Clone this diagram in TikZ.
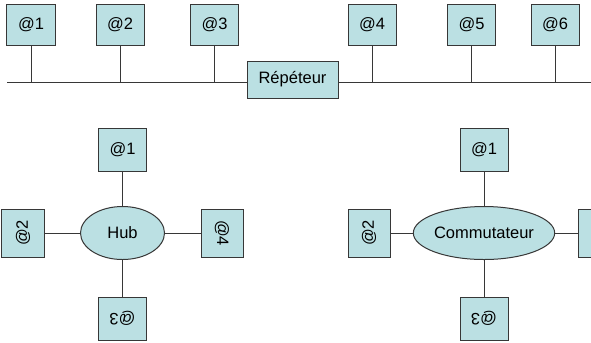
\documentclass[tikz,border=0pt]{standalone}
\usepackage{fontspec}
\setmainfont{Liberation Sans}
\usetikzlibrary{shapes.geometric}
\definecolor{boxfill}{RGB}{187,224,227}
\definecolor{wire}{RGB}{55,55,55}

\begin{document}
\begin{tikzpicture}[x=1bp,y=-1bp,
    font=\fontsize{16.5bp}{19bp}\selectfont,
    station/.style={draw=wire,fill=boxfill,line width=1bp,inner sep=0pt,
                    minimum width=48bp,minimum height=41bp},
    sidebox/.style={station,minimum width=48bp,minimum height=42bp},
    central/.style={draw=wire,fill=boxfill,line width=1bp,ellipse,inner sep=0pt,
                    minimum height=53bp},
    link/.style={draw=wire,line width=1bp}]
  \useasboundingbox (0,0) rectangle (591,342);
  \clip (0,0) rectangle (591,342);
  % bus with repeater
  \coordinate (busL) at (7,82);
  \coordinate (busR) at (591,82);
  \node[station,minimum width=91bp,minimum height=37bp] (rep) at (292.5,79.5) {Répéteur};
  \node[station] (t1) at (31,24.5)    {@1};
  \node[station] (t2) at (120,24.5)   {@2};
  \node[station] (t3) at (214.5,24.5) {@3};
  \node[station] (t4) at (372,24.5)   {@4};
  \node[station] (t5) at (471.5,24.5) {@5};
  \node[station] (t6) at (555,24.5)   {@6};
  \path[link] (busL) -- (busL -| rep.west) (busR -| rep.east) -- (busR);
  \foreach \i in {1,...,6}
    \path[link] (t\i.south) -- (t\i.south |- busL);
  % hub
  \node[central,minimum width=84bp] (hub) at (122.5,233) {Hub};
  \node[station,minimum height=43bp] (h1) at (122.5,150) {@1};
  \node[sidebox,rotate=90]  (h2) at (23,233)    {@2};
  \node[station,minimum height=43bp,rotate=180] (h3) at (122.5,318.5) {@3};
  \node[sidebox,rotate=-90] (h4) at (222,233)   {@4};
  % switch
  \node[central,minimum width=116bp] (sw) at (484,233) {Commutateur};
  \node[station,minimum height=43bp] (s1) at (484,150) {@1};
  \node[sidebox,rotate=90]  (s2) at (369,233)   {@2};
  \node[station,minimum height=43bp,rotate=180] (s3) at (484,318.5) {@3};
  \node[sidebox,rotate=-90] (s4) at (599,233)   {@4};
  \foreach \i in {1,...,4} {
    \path[link] (hub) -- (h\i);
    \path[link] (sw) -- (s\i);
  }
\end{tikzpicture}
\end{document}
